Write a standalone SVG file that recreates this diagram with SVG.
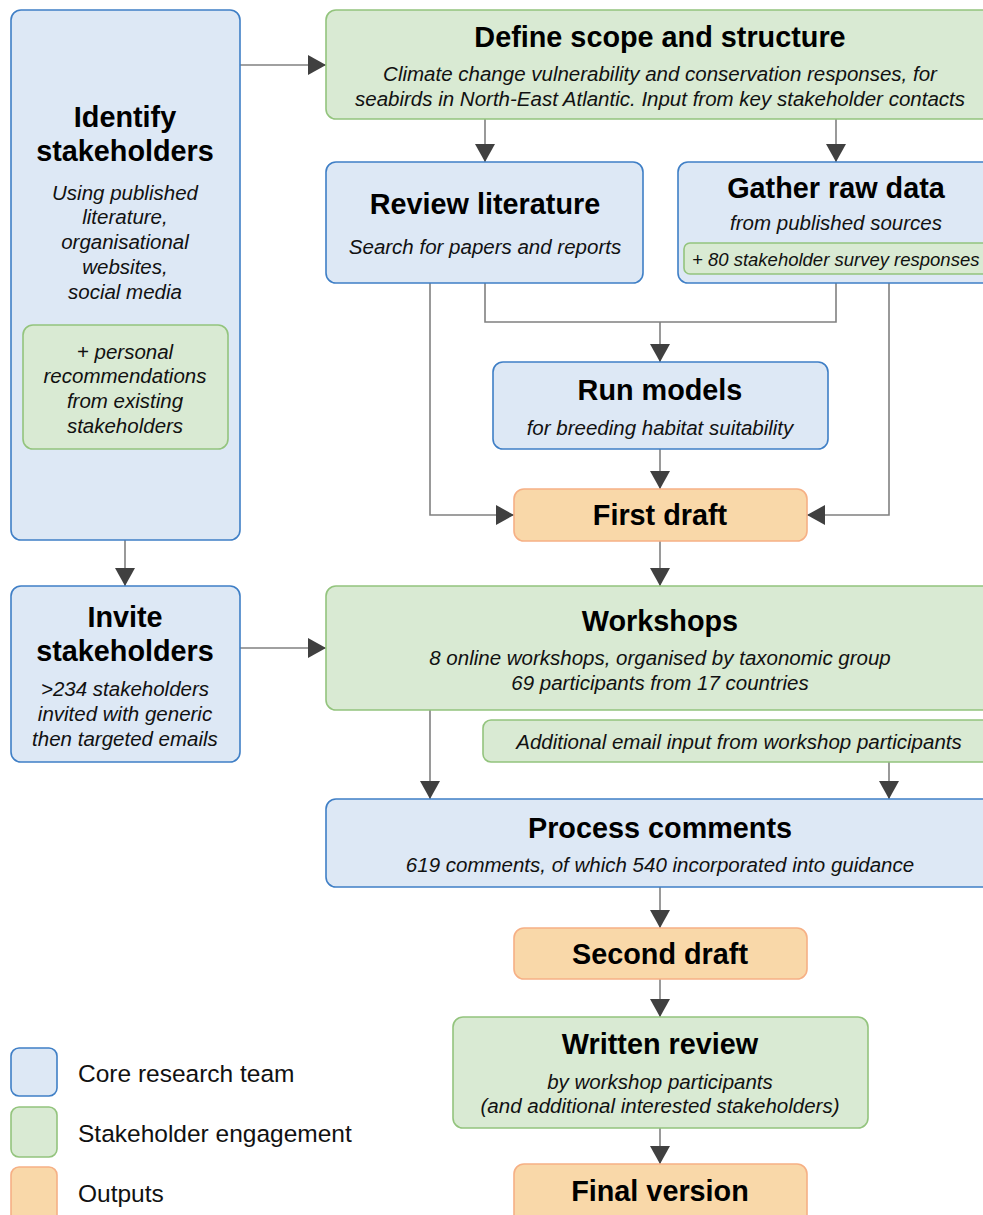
<svg xmlns="http://www.w3.org/2000/svg" width="983" height="1215" viewBox="0 0 983 1215">
<style>
.blue{fill:#dde8f5;stroke:#3f7fc6;stroke-width:1.6}
.green{fill:#d9ead3;stroke:#93c47d;stroke-width:1.6}
.orange{fill:#f9d8a9;stroke:#f6b085;stroke-width:1.6}
.t{font-family:"Liberation Sans",Arial,sans-serif;font-weight:bold;font-size:28.8px;fill:#000;text-anchor:middle}
.s{font-family:"Liberation Sans",Arial,sans-serif;font-style:italic;font-size:20.5px;fill:#111;text-anchor:middle}
.lg{font-family:"Liberation Sans",Arial,sans-serif;font-size:24.5px;fill:#111}
.c{fill:none;stroke:#808080;stroke-width:1.6}
</style>
<defs>
<marker id="ah" markerUnits="userSpaceOnUse" viewBox="0 0 18 20" markerWidth="18" markerHeight="20" refX="18" refY="10" orient="auto">
<path d="M0,0 L18,10 L0,20 Z" fill="#404040"/>
</marker>
</defs>
<rect width="983" height="1215" fill="#fff"/>
<g id="connectors">
<path class="c" d="M240,65 H326" marker-end="url(#ah)"/>
<path class="c" d="M485,119 V162" marker-end="url(#ah)"/>
<path class="c" d="M836,119 V162" marker-end="url(#ah)"/>
<path class="c" d="M485,283 V322 H836 V283"/>
<path class="c" d="M660,322 V362" marker-end="url(#ah)"/>
<path class="c" d="M430,283 V515 H514" marker-end="url(#ah)"/>
<path class="c" d="M889,283 V515 H807" marker-end="url(#ah)"/>
<path class="c" d="M660,449 V489" marker-end="url(#ah)"/>
<path class="c" d="M660,541 V586" marker-end="url(#ah)"/>
<path class="c" d="M125,540 V586" marker-end="url(#ah)"/>
<path class="c" d="M240,648 H326" marker-end="url(#ah)"/>
<path class="c" d="M430,710 V799" marker-end="url(#ah)"/>
<path class="c" d="M889,762 V799" marker-end="url(#ah)"/>
<path class="c" d="M660,887 V928" marker-end="url(#ah)"/>
<path class="c" d="M660,979 V1017" marker-end="url(#ah)"/>
<path class="c" d="M660,1128 V1164" marker-end="url(#ah)"/>
</g>
<g id="identify">
<rect class="blue" x="11" y="10" width="229" height="530" rx="10"/>
<text class="t" x="125" y="127">Identify</text>
<text class="t" x="125" y="161">stakeholders</text>
<text class="s" x="125" y="200">Using published</text>
<text class="s" x="125" y="224">literature,</text>
<text class="s" x="125" y="249">organisational</text>
<text class="s" x="125" y="274">websites,</text>
<text class="s" x="125" y="299">social media</text>
<rect class="green" x="23" y="325" width="205" height="124" rx="10"/>
<text class="s" x="125" y="359">+ personal</text>
<text class="s" x="125" y="383">recommendations</text>
<text class="s" x="125" y="408">from existing</text>
<text class="s" x="125" y="433">stakeholders</text>
</g>
<g id="define">
<rect class="green" x="326" y="10" width="668" height="109" rx="10"/>
<text class="t" x="660" y="47">Define scope and structure</text>
<text class="s" x="660" y="81">Climate change vulnerability and conservation responses, for</text>
<text class="s" x="660" y="106">seabirds in North-East Atlantic. Input from key stakeholder contacts</text>
</g>
<g id="review">
<rect class="blue" x="326" y="162" width="317" height="121" rx="10"/>
<text class="t" x="485" y="214">Review literature</text>
<text class="s" x="485" y="254">Search for papers and reports</text>
</g>
<g id="gather">
<rect class="blue" x="678" y="162" width="316" height="121" rx="10"/>
<text class="t" x="836" y="198">Gather raw data</text>
<text class="s" x="836" y="230">from published sources</text>
<rect class="green" x="684" y="243" width="306" height="31" rx="6"/>
<text class="s" x="692" y="266" style="text-anchor:start;font-size:18.5px">+ 80 stakeholder survey responses</text>
</g>
<g id="run">
<rect class="blue" x="493" y="362" width="335" height="87" rx="10"/>
<text class="t" x="660" y="400">Run models</text>
<text class="s" x="660" y="435">for breeding habitat suitability</text>
</g>
<g id="first">
<rect class="orange" x="514" y="489" width="293" height="52" rx="10"/>
<text class="t" x="660" y="525">First draft</text>
</g>
<g id="invite">
<rect class="blue" x="11" y="586" width="229" height="176" rx="10"/>
<text class="t" x="125" y="627">Invite</text>
<text class="t" x="125" y="661">stakeholders</text>
<text class="s" x="125" y="696">&gt;234 stakeholders</text>
<text class="s" x="125" y="721">invited with generic</text>
<text class="s" x="125" y="746">then targeted emails</text>
</g>
<g id="workshops">
<rect class="green" x="326" y="586" width="668" height="124" rx="10"/>
<text class="t" x="660" y="631">Workshops</text>
<text class="s" x="660" y="665">8 online workshops, organised by taxonomic group</text>
<text class="s" x="660" y="690">69 participants from 17 countries</text>
</g>
<g id="email">
<rect class="green" x="483" y="720" width="511" height="42" rx="8"/>
<text class="s" x="739" y="749">Additional email input from workshop participants</text>
</g>
<g id="process">
<rect class="blue" x="326" y="799" width="668" height="88" rx="10"/>
<text class="t" x="660" y="838">Process comments</text>
<text class="s" x="660" y="872">619 comments, of which 540 incorporated into guidance</text>
</g>
<g id="second">
<rect class="orange" x="514" y="928" width="293" height="51" rx="10"/>
<text class="t" x="660" y="964">Second draft</text>
</g>
<g id="written">
<rect class="green" x="453" y="1017" width="415" height="111" rx="10"/>
<text class="t" x="660" y="1054">Written review</text>
<text class="s" x="660" y="1089">by workshop participants</text>
<text class="s" x="660" y="1113">(and additional interested stakeholders)</text>
</g>
<g id="final">
<rect class="orange" x="514" y="1164" width="293" height="62" rx="10"/>
<text class="t" x="660" y="1201">Final version</text>
</g>
<g id="legend">
<rect class="blue" x="11" y="1048" width="46" height="48" rx="8"/>
<text class="lg" x="78" y="1082">Core research team</text>
<rect class="green" x="11" y="1107" width="46" height="50" rx="8"/>
<text class="lg" x="78" y="1142">Stakeholder engagement</text>
<rect class="orange" x="11" y="1167" width="46" height="60" rx="8"/>
<text class="lg" x="78" y="1202">Outputs</text>
</g>
</svg>
